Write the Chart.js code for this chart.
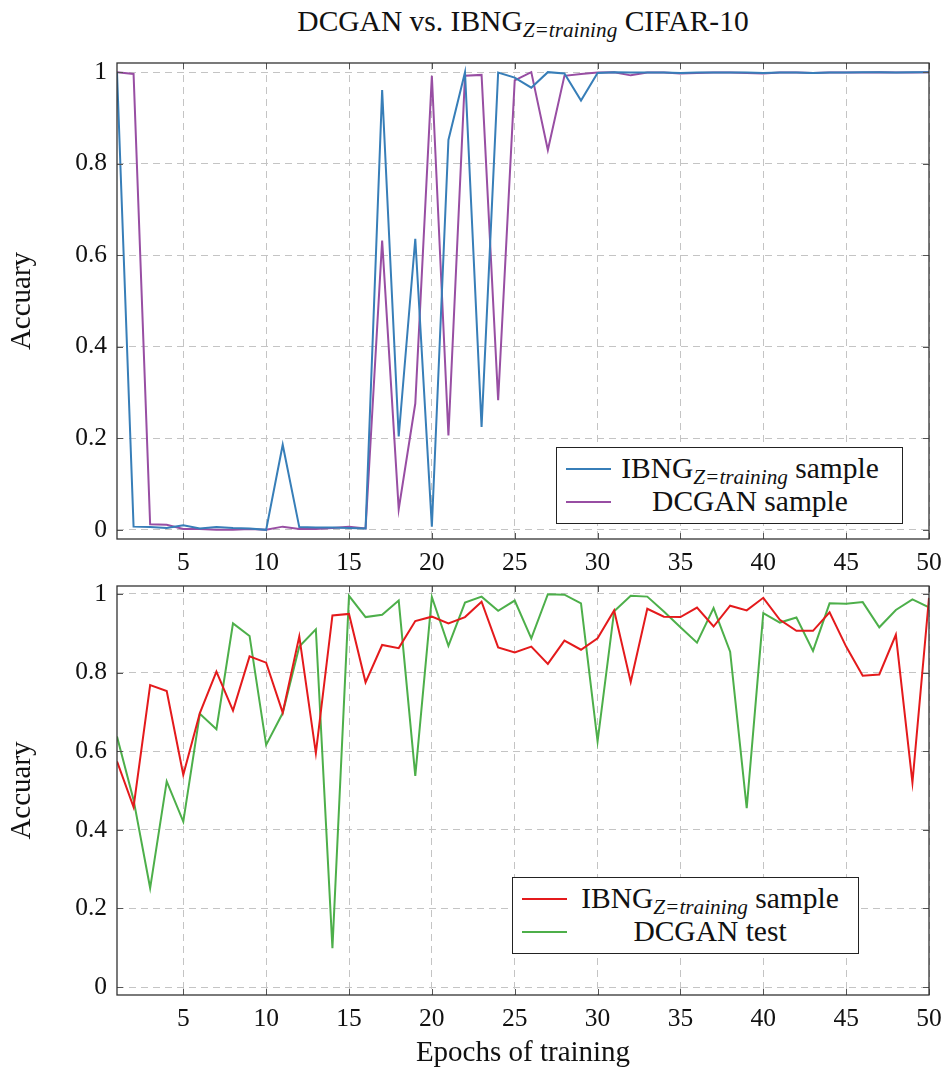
<!DOCTYPE html>
<html>
<head>
<meta charset="utf-8">
<script src="https://cdn.jsdelivr.net/npm/chart.js@4.4.1/dist/chart.umd.min.js"></script>
<style>
  body { margin: 0; background: #fff; font-family: "Liberation Serif", "Times New Roman", "DejaVu Serif", serif; color: #111; }
  #wrap { position: relative; width: 945px; height: 1068px; overflow: hidden; }
  canvas { position: absolute; left: 0; }
  #topCanvas { top: 0; }
  #bottomCanvas { top: 575px; }
  .title { position: absolute; top: 4px; left: 117px; width: 812px; text-align: center; font-size: 29.5px; line-height: 34px; }
  sub { font-size: 0.72em; font-style: italic; vertical-align: -0.3em; line-height: 0; }
  .legend { position: absolute; width: 345px; height: 75px; border: 1px solid #222; background: #fff; font-size: 29.5px; }
  .row { position: absolute; left: 0; height: 33px; width: 100%; }
  .row .sw { position: absolute; left: 9px; top: 15px; width: 45px; height: 2px; }
  .row .tx { position: absolute; top: -1px; line-height: 33px; text-align: center; white-space: nowrap; }
</style>
</head>
<body>
<div id="wrap">
  <div class="title">DCGAN vs. IBNG<sub>Z=training</sub> CIFAR-10</div>
  <canvas id="topCanvas" width="945" height="575"></canvas>
  <canvas id="bottomCanvas" width="945" height="493"></canvas>

  <div class="legend" style="left:556px; top:447px;">
    <div class="row" style="top:5px;"><span class="sw" style="background:#377eb8"></span><span class="tx" style="left:58px; width:270px;">IBNG<sub>Z=training</sub> sample</span></div>
    <div class="row" style="top:38px;"><span class="sw" style="background:#984ea3"></span><span class="tx" style="left:58px; width:270px;">DCGAN sample</span></div>
  </div>
  <div class="legend" style="left:512px; top:877px;">
    <div class="row" style="top:5px;"><span class="sw" style="background:#e41a1c"></span><span class="tx" style="left:57px; width:280px;">IBNG<sub>Z=training</sub> sample</span></div>
    <div class="row" style="top:38px;"><span class="sw" style="background:#4daf4a"></span><span class="tx" style="left:57px; width:280px;">DCGAN test</span></div>
  </div>
</div>
<script>
const epochs = [1, 2, 3, 4, 5, 6, 7, 8, 9, 10, 11, 12, 13, 14, 15, 16, 17, 18, 19, 20,
  21, 22, 23, 24, 25, 26, 27, 28, 29, 30, 31, 32, 33, 34, 35, 36, 37, 38, 39, 40,
  41, 42, 43, 44, 45, 46, 47, 48, 49, 50];
const xTicks = [5, 10, 15, 20, 25, 30, 35, 40, 45, 50];
const yTicks = [0, 0.2, 0.4, 0.6, 0.8, 1];

// top panel
const ibngSample = [1.0, 0.007, 0.006, 0.004, 0.010, 0.003, 0.006, 0.004, 0.003, 0.0,
  0.186, 0.006, 0.005, 0.005, 0.004, 0.003, 0.961, 0.204, 0.636, 0.007,
  0.852, 1.0, 0.225, 0.999, 0.988, 0.966, 1.0, 0.997, 0.938, 0.998,
  1.0, 0.999, 0.999, 0.999, 0.998, 0.999, 0.999, 0.999, 0.999, 0.998,
  0.999, 0.999, 0.998, 0.999, 0.999, 1.0, 1.0, 0.999, 1.0, 1.0];
const dcganSample = [1.0, 0.996, 0.012, 0.011, 0.002, 0.002, 0.0, 0.0, 0.002, 0.0,
  0.007, 0.002, 0.002, 0.004, 0.007, 0.003, 0.632, 0.045, 0.276, 0.992,
  0.206, 0.992, 0.994, 0.283, 0.982, 1.0, 0.83, 0.992, 0.996, 0.999,
  1.0, 0.993, 0.999, 0.999, 0.997, 0.998, 0.999, 0.999, 0.998, 0.997,
  0.999, 0.999, 0.998, 0.999, 0.999, 0.999, 1.0, 0.999, 0.999, 1.0];

// bottom panel
const ibngSample2 = [0.574, 0.458, 0.768, 0.753, 0.54, 0.697, 0.802, 0.703, 0.841, 0.825,
  0.698, 0.892, 0.595, 0.945, 0.949, 0.775, 0.870, 0.862, 0.931, 0.942,
  0.925, 0.941, 0.98, 0.864, 0.851, 0.866, 0.822, 0.881, 0.858, 0.887,
  0.958, 0.776, 0.962, 0.942, 0.941, 0.965, 0.917, 0.97, 0.958, 0.99,
  0.934, 0.906, 0.906, 0.953, 0.866, 0.792, 0.795, 0.896, 0.52, 0.99];
const dcganTest = [0.637, 0.476, 0.252, 0.523, 0.421, 0.695, 0.656, 0.925, 0.893, 0.616,
  0.697, 0.866, 0.91, 0.099, 0.995, 0.941, 0.947, 0.983, 0.537, 0.992,
  0.868, 0.978, 0.993, 0.957, 0.983, 0.887, 0.999, 0.998, 0.976, 0.625,
  0.956, 0.995, 0.993, 0.955, 0.915, 0.876, 0.964, 0.853, 0.455, 0.951,
  0.927, 0.94, 0.855, 0.976, 0.975, 0.979, 0.915, 0.959, 0.986, 0.966];

const serif = "'Liberation Serif', 'Times New Roman', 'DejaVu Serif', serif";
const toPoints = (vals) => epochs.map((e, i) => ({ x: e, y: vals[i] }));

// frame + small inner tick marks like pgfplots
const framePlugin = {
  id: "frame",
  afterDraw(chart) {
    const { ctx, chartArea: a, scales } = chart;
    ctx.save();
    ctx.strokeStyle = "#555";
    ctx.lineWidth = 1;
    ctx.beginPath();
    xTicks.forEach((t) => {
      const px = Math.round(scales.x.getPixelForValue(t)) + 0.5;
      ctx.moveTo(px, a.top); ctx.lineTo(px, a.top + 6);
      ctx.moveTo(px, a.bottom); ctx.lineTo(px, a.bottom - 6);
    });
    yTicks.forEach((t) => {
      const py = Math.round(scales.y.getPixelForValue(t)) + 0.5;
      ctx.moveTo(a.left, py); ctx.lineTo(a.left + 6, py);
      ctx.moveTo(a.right, py); ctx.lineTo(a.right - 6, py);
    });
    ctx.stroke();
    ctx.strokeStyle = "#333";
    ctx.lineWidth = 1.3;
    ctx.strokeRect(a.left, a.top, a.right - a.left, a.bottom - a.top);
    ctx.restore();
  },
};

const makeOptions = (padTop, xHeight, showXTitle) => ({
  responsive: false,
  animation: false,
  layout: { padding: { top: padTop, right: 16, left: 0, bottom: 0 } },
  plugins: { legend: { display: false }, tooltip: { enabled: false } },
  scales: {
    x: {
      type: "linear",
      min: 1,
      max: 50,
      afterBuildTicks: (s) => { s.ticks = xTicks.map((v) => ({ value: v })); },
      afterFit: (s) => { s.height = xHeight; s.paddingLeft = 0; s.paddingRight = 0; },
      grid: { color: "#c4c4c4", lineWidth: 1, drawTicks: false },
      border: { display: false, dash: [7, 5] },
      ticks: { color: "#111", padding: 9, maxRotation: 0, font: { family: serif, size: 25.5 } },
      title: {
        display: showXTitle,
        text: "Epochs of training",
        color: "#111",
        padding: { top: 0, bottom: 0 },
        font: { family: serif, size: 29, lineHeight: 1 },
      },
    },
    y: {
      min: -0.02,
      max: 1.02,
      afterBuildTicks: (s) => { s.ticks = yTicks.map((v) => ({ value: v })); },
      afterFit: (s) => { s.width = 117; s.paddingTop = 0; s.paddingBottom = 0; },
      grid: { color: "#c4c4c4", lineWidth: 1, drawTicks: false },
      border: { display: false, dash: [7, 5] },
      ticks: {
        color: "#111",
        padding: 10,
        font: { family: serif, size: 25.5 },
        callback: (v) => String(Number(v.toFixed(1))),
      },
      title: {
        display: true,
        text: "Accuary",
        color: "#111",
        padding: { top: 8, bottom: 0 },
        font: { family: serif, size: 29, lineHeight: 1 },
      },
    },
  },
});

const lineSet = (label, vals, color) => ({
  label,
  data: toPoints(vals),
  borderColor: color,
  backgroundColor: color,
  borderWidth: 2,
  pointRadius: 0,
  tension: 0,
  fill: false,
});

new Chart(document.getElementById("topCanvas"), {
  type: "line",
  data: {
    datasets: [
      lineSet("IBNG Z=training sample", ibngSample, "#377eb8"),
      lineSet("DCGAN sample", dcganSample, "#984ea3"),
    ],
  },
  options: makeOptions(63, 36, false),
  plugins: [framePlugin],
});

new Chart(document.getElementById("bottomCanvas"), {
  type: "line",
  data: {
    datasets: [
      lineSet("IBNG Z=training sample", ibngSample2, "#e41a1c"),
      lineSet("DCGAN test", dcganTest, "#4daf4a"),
    ],
  },
  options: makeOptions(11, 73, true),
  plugins: [framePlugin],
});
</script>
</body>
</html>
